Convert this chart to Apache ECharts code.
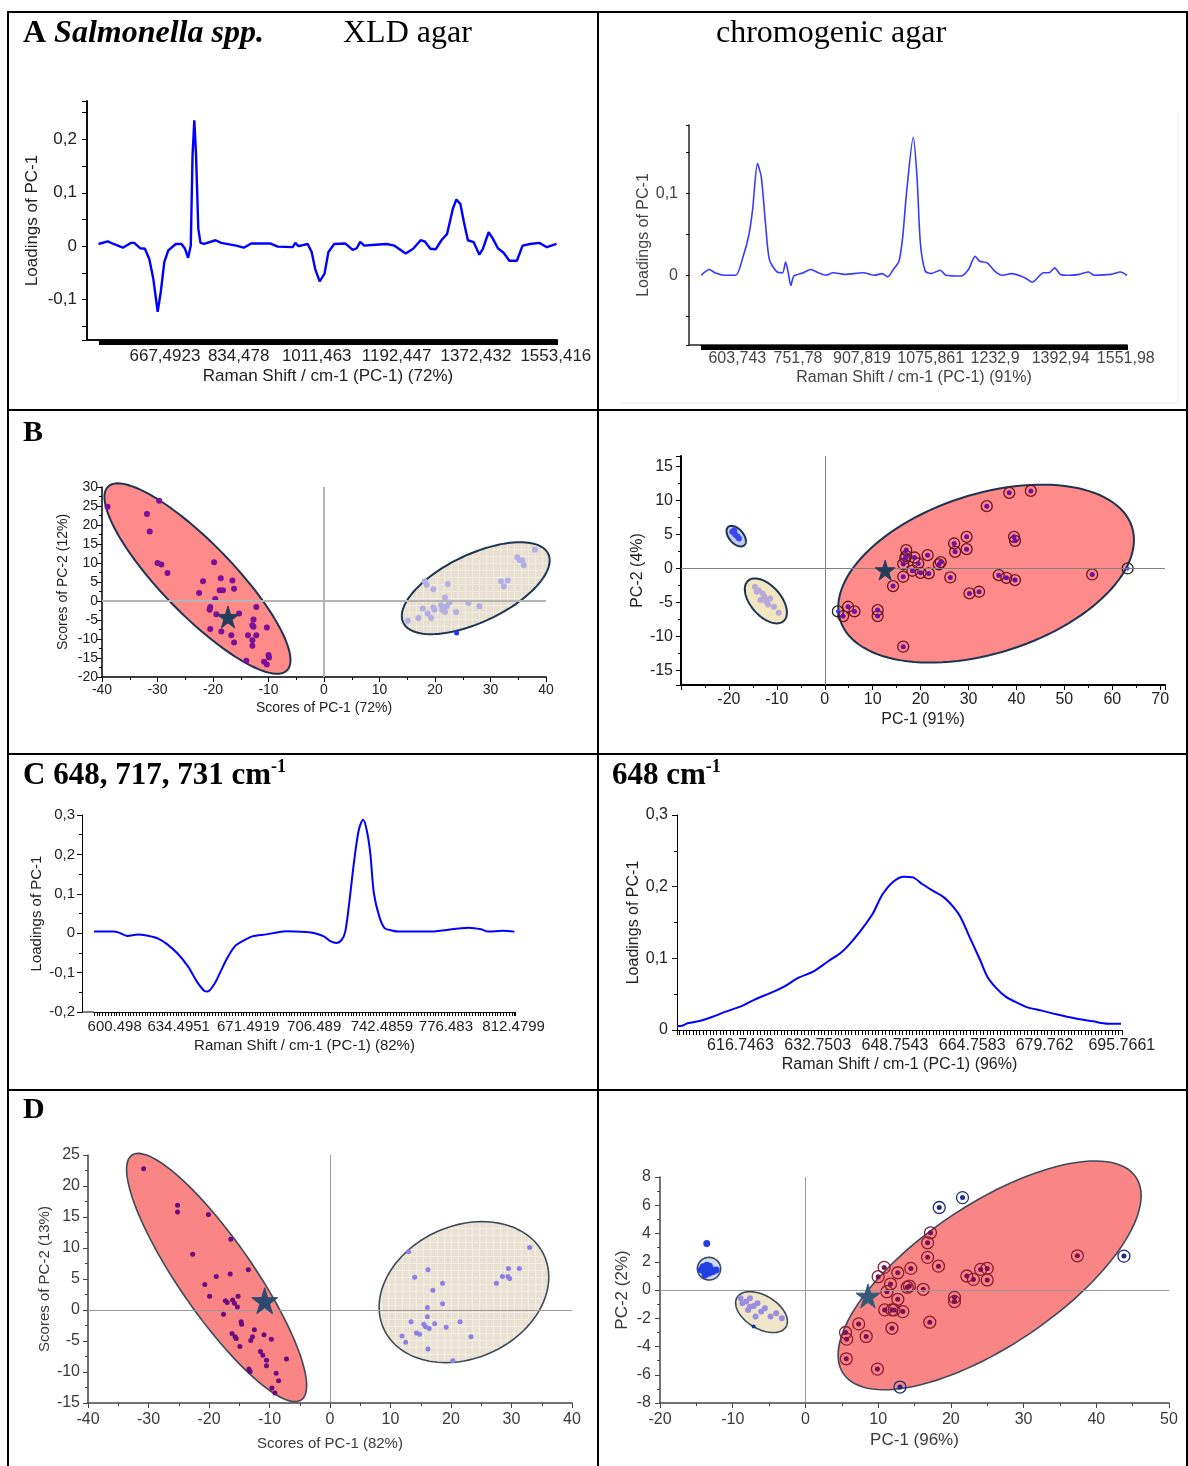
<!DOCTYPE html>
<html>
<head>
<meta charset="utf-8">
<title>Salmonella spp. Raman PCA</title>
<script src="https://cdn.jsdelivr.net/npm/echarts@6/dist/echarts.min.js"></script>
<style>
html, body { margin: 0; padding: 0; background: #fff; }
#main { width: 1188px; height: 1466px; }
</style>
</head>
<body>
<div id="main"></div>
<script>
// ---- A: loadings of PC-1 (full spectrum) ----
var aXldTicks = [667.4923, 834.478, 1011.463, 1192.447, 1372.432, 1553.416];
var aXldSpectrum = [[517,0.004],[538,0.009],[551,0.004],[572,-0.003],[590,0.006],[598,0.006],[611,-0.004],[622,-0.005],[632,-0.024],[641,-0.061],[651,-0.123],[658,-0.086],[666,-0.03],[675,-0.008],[692,0.004],[705,0.004],[713,-0.005],[720,-0.022],[726,0.001],[730,0.17],[734,0.236],[738,0.17],[743,0.033],[748,0.006],[756,0.004],[782,0.011],[795,0.006],[829,0.001],[846,-0.003],[863,0.005],[906,0.005],[923,-0.001],[957,-0.002],[963,0.006],[970,0],[991,0.004],[1000,-0.011],[1008,-0.043],[1018,-0.066],[1029,-0.052],[1038,-0.011],[1051,0.004],[1076,0.005],[1093,-0.007],[1102,-0.004],[1110,0.008],[1119,0.001],[1136,0.002],[1170,0.004],[1187,0.001],[1213,-0.014],[1230,-0.005],[1247,0.011],[1256,0.009],[1269,-0.005],[1281,-0.006],[1294,0.011],[1307,0.023],[1320,0.07],[1328,0.0875],[1337,0.079],[1345,0.045],[1354,0.011],[1367,0.0075],[1380,-0.016],[1388,-0.005],[1401,0.026],[1410,0.015],[1422,-0.004],[1435,-0.0125],[1448,-0.0275],[1465,-0.0275],[1478,0.001],[1495,0.004],[1516,0.006],[1533,-0.002],[1555,0.004]];

var aChromTicks = [603.743, 751.78, 907.819, 1075.861, 1232.9, 1392.94, 1551.98];
var aChromSpectrum = [[515.4,0],[535.6,0.007],[549,0.003],[572,0],[599.7,0],[618,0.023],[631.8,0.049],[641,0.08],[652.9,0.136],[662,0.12],[673,0.06],[682,0.019],[700.5,0.004],[714,0.003],[721.6,0.016],[728,0.003],[734.4,-0.0126],[741.7,-0.001],[764.7,0.003],[783,0.007],[801.3,0.003],[819.6,0],[838,0.003],[865.5,0.001],[911.3,0.003],[938.8,0],[957,0.002],[970.8,-0.002],[984.6,0.007],[998.3,0.017],[1007.5,0.047],[1016.7,0.1],[1033.2,0.168],[1042.3,0.12],[1050.6,0.039],[1062.5,0.005],[1076.2,0.002],[1099.2,0.006],[1112.9,0],[1149.5,-0.001],[1167.9,0.007],[1184.3,0.023],[1195.4,0.017],[1213.7,0.015],[1232,0.005],[1250.3,0],[1273.3,0.002],[1305.3,-0.003],[1323.7,-0.0085],[1351.2,0.003],[1364.9,0.003],[1378.6,0.009],[1392.4,0.001],[1415.3,0],[1438.2,0.001],[1461.1,0.004],[1474.9,0],[1516.1,0.001],[1539,0.004],[1555,0]];

// ---- B: scores, full spectrum ----
// ellipses: [cx, cy, ux, uy, vx, vy] (centre + two semi-axis vectors, data units)
var bXldRedEllipse = [[-22.8, 5.9, 16.1, -24.2, 4.65, 6.5]];
var bXldBeigeEllipse = [[27.34, 3.37, 13.06, 9.06, -2.63, 8.02]];
var bXldRed = [[-39.0,24.8],[-29.7,26.4],[-31.9,22.9],[-31.4,18.3],[-30.0,10.0],[-29.3,9.6],[-28.2,7.4],[-19.8,10.2],[-21.8,5.2],[-22.5,2.1],[-18.6,6.0],[-16.5,5.4],[-16.2,3.2],[-18.8,2.8],[-18.2,2.8],[-19.6,0.5],[-20.5,-1.6],[-20.6,-2.3],[-19.4,-3.5],[-15.3,-3.3],[-12.2,-1.6],[-12.7,-4.9],[-12.9,-6.4],[-12.7,-6.8],[-10.3,-7.0],[-20.5,-7.4],[-18.5,-8.0],[-16.7,-9.0],[-13.7,-9.0],[-12.2,-9.0],[-12.9,-10.3],[-12.9,-11.8],[-16.2,-10.9],[-14.0,-15.7],[-10.8,-16.0],[-10.3,-16.7],[-10.0,-14.2],[-9.9,-14.9]];
var bXldBeige = [[15.1,-5.2],[17.0,-4.5],[17.8,-2.0],[18.7,-3.3],[19.3,-4.5],[19.7,-1.7],[19.9,-2.3],[18.1,5.2],[18.5,4.3],[19.7,3.1],[22.3,4.5],[21.8,0.9],[22.6,-0.4],[21.1,-1.1],[21.3,-2.4],[21.8,-2.9],[22.1,-1.4],[23.8,-2.9],[26.0,-0.5],[28.0,-1.4],[31.9,5.2],[32.4,3.9],[33.1,5.4],[34.8,11.5],[35.3,10.7],[35.7,10.7],[36.0,9.4],[38.0,13.5]];
var bXldBlue = [[23.9,-8.4]];
var bXldStar = [[-17.3,-4.2]];

var bChromRedEllipse = [[33.67, -0.76, 30.08, 7.50, -6.86, 10.69]];
var bChromBlueEllipse = [[-18.48, 4.74, 1.57, -1.40, 1.28, 0.56]];
var bChromBeigeEllipse = [[-12.29, -4.76, 3.47, -3.08, 2.69, 1.18]];
var bChromRed = [[3.84,-6.99],[4.86,-5.62],[6.19,-6.30],[11.04,-6.11],[11.04,-6.99],[14.25,-2.59],[16.37,-1.22],[16.37,0.64],[17.0,2.69],[17.0,1.81],[16.8,1.5],[18.72,1.61],[19.5,0.73],[18.3,-0.34],[20.0,-0.64],[21.46,1.95],[21.7,-0.73],[23.8,0.59],[24.2,0.93],[26.2,-1.32],[27.0,3.66],[27.2,2.44],[29.6,4.64],[29.6,2.83],[30.2,-3.66],[32.2,-3.42],[33.8,9.14],[36.3,-0.98],[37.9,-1.37],[38.5,11.09],[39.5,4.64],[39.7,4.05],[39.7,-1.71],[43.0,11.38],[55.8,-0.88],[16.37,-11.48]];
var bChromBlack = [[2.74,-6.30],[63.2,0]];
var bChromBlue = [[-19.3,5.4],[-18.7,5.0],[-18.2,4.7],[-17.9,4.4],[-18.9,5.6]];
var bChromBeige = [[-14.57,-2.69],[-13.78,-3.18],[-13.0,-3.66],[-12.6,-4.15],[-13.4,-4.64],[-12.2,-4.88],[-11.4,-4.4],[-10.6,-5.62],[-9.6,-6.5],[-14.2,-3.42],[-11.8,-5.28]];
var bChromStar = [[12.6,-0.24]];

// ---- C: loadings of PC-1, selected bands ----
var cXldTicks = [600.498, 634.4951, 671.4919, 706.489, 742.4859, 776.483, 812.4799];
var cXldSpectrum = [[589.5,0.004],[599.6,0.004],[602.4,0.002],[607.2,-0.007],[612.9,-0.003],[618.6,-0.007],[623.3,-0.013],[628.1,-0.027],[633.8,-0.051],[639.5,-0.085],[644.2,-0.123],[648,-0.146],[649.9,-0.148],[653.7,-0.127],[656.5,-0.1],[660.3,-0.063],[664.2,-0.034],[667,-0.024],[673.6,-0.008],[681.2,-0.003],[686.9,0.002],[691.7,0.005],[702.1,0.003],[706.9,0],[711.6,-0.008],[715.4,-0.021],[718.3,-0.025],[721.1,-0.017],[723,0.004],[724.9,0.068],[727.8,0.186],[730.2,0.262],[732.5,0.288],[734.4,0.262],[736.3,0.203],[738.2,0.102],[741.1,0.042],[743.9,0.013],[747.7,0.007],[751.5,0.004],[768.6,0.004],[774.3,0.007],[788.6,0.014],[795.2,0.01],[799,0.004],[806.6,0.006],[812.9,0.004]];

var cChromTicks = [616.7463, 632.7503, 648.7543, 664.7583, 679.762, 695.7661];
var cChromSpectrum = [[603.6,0.0056],[604.7,0.006],[605.8,0.0093],[608.5,0.013],[610.7,0.0177],[613.7,0.0256],[616.7,0.0326],[619.8,0.0428],[622.8,0.0512],[625.8,0.0605],[628.8,0.073],[631.8,0.0814],[634.8,0.0953],[637.8,0.1093],[640.1,0.1256],[642.3,0.1442],[644.2,0.1628],[646.1,0.1884],[648.4,0.207],[650.6,0.214],[652.5,0.213],[654.4,0.2037],[656.6,0.1944],[658.9,0.1851],[660.8,0.1721],[662.3,0.158],[664.2,0.13],[666.4,0.0977],[667.9,0.0744],[669.8,0.0581],[671.7,0.0465],[673.6,0.0395],[676.2,0.0316],[679.2,0.027],[682.2,0.0219],[686,0.0163],[689.8,0.0121],[692.8,0.0088],[695.6,0.0088]];

// ---- D: scores, selected bands ----
var dXldRedEllipse = [[-18.74, 5.24, 13.9, -19.8, 5.31, 2.98]];
var dXldBeigeEllipse = [[22.14, 2.88, 12.5, 7.2, -6.35, 8.8]];
var dXldRed = [[-30.8,22.8],[-25.2,16.9],[-25.2,15.8],[-20.1,15.4],[-16.4,11.4],[-22.7,9.0],[-13.5,6.5],[-16.5,5.8],[-18.8,5.4],[-20.7,4.1],[-19.9,2.2],[-17.3,1.5],[-17.0,1.2],[-16.1,1.6],[-15.2,2.2],[-15.8,1.1],[-15.3,0.5],[-17.6,-0.7],[-14.7,-1.9],[-14.6,-2.3],[-16.2,-3.8],[-15.7,-4.3],[-15.5,-4.6],[-14.9,-5.9],[-12.5,-3.2],[-12.8,-4.3],[-13.1,-4.9],[-10.9,-4.0],[-9.7,-4.7],[-11.5,-6.7],[-11.1,-7.3],[-10.5,-8.1],[-10.5,-9.0],[-7.2,-7.9],[-13.4,-9.5],[-13.2,-9.9],[-8.9,-10.2],[-8.5,-11.4],[-9.6,-12.6],[-9.1,-13.4]];
var dXldBeige = [[13.0,9.4],[14.0,5.3],[16.2,6.5],[17.0,3.2],[18.6,4.3],[18.6,1.0],[16.1,0.4],[16.1,-1.1],[13.4,-1.9],[15.5,-2.3],[15.8,-2.7],[16.4,-3.0],[17.3,-2.2],[19.2,-2.8],[21.5,-1.9],[14.3,-3.7],[14.8,-3.9],[11.9,-4.2],[12.5,-5.2],[16.2,-6.3],[23.3,-4.3],[20.3,-8.2],[27.5,4.3],[28.5,5.4],[29.4,5.4],[29.7,5.1],[29.5,6.7],[31.3,6.7],[33.0,10.1]];
var dXldStar = [[-10.8,1.5]];

var dChromRedEllipse = [[25.33, 1.035, 19.78, 7.18, -6.55, 3.75]];
var dChromBlueEllipse = [[-13.26, 1.51, 1.6, 0, 0, 0.8]];
var dChromBeigeEllipse = [[-6.04, -1.565, 3.22, -1.14, 1.52, 0.89]];
var dChromRed = [[5.52,-3.01],[5.67,-3.48],[5.62,-4.87],[7.32,-2.40],[8.36,-3.29],[9.90,-5.60],[10.0,0.94],[10.83,1.6],[11.7,0.42],[11.2,-0.12],[10.9,-1.41],[11.9,-1.41],[12.2,-1.41],[11.9,-2.71],[13.4,-1.53],[12.7,-0.66],[12.7,1.22],[14.0,0.19],[14.3,0.28],[14.5,1.53],[16.2,0.05],[16.8,2.31],[16.8,3.34],[17.2,4.05],[17.1,-2.28],[18.3,1.69],[20.5,-0.52],[20.5,-0.82],[22.2,0.99],[23.1,0.75],[24.1,1.46],[25.0,1.53],[25.0,0.71],[37.4,2.42]];
var dChromBlueRing = [[18.4,5.84],[21.6,6.54],[43.8,2.4],[13.0,-6.87]];
var dChromBlue = [[-14.08,1.65],[-13.57,1.76],[-13.05,1.53],[-13.72,1.41],[-12.79,1.29],[-13.31,1.18],[-14.34,1.41],[-12.28,1.41],[-13.82,1.06],[-13.21,1.69],[-13.57,3.29]];
var dChromBeige = [[-8.67,-0.94],[-8.15,-0.82],[-7.63,-1.18],[-7.89,-1.41],[-7.12,-1.13],[-6.6,-0.94],[-6.09,-1.53],[-5.57,-1.29],[-4.8,-1.88],[-4.02,-1.65],[-3.25,-2.0],[-6.86,-1.88],[-7.63,-0.59],[-8.92,-0.59]];
var dChromDark = [[-7.12,-2.59]];
var dChromStar = [[8.6,-0.42]];

var sans = 'Arial, "Liberation Sans", sans-serif';
var serif = '"Times New Roman", "Liberation Serif", serif';
var starPath = 'path://M50,0 L61,35 L98,35 L68,57 L79,91 L50,70 L21,91 L32,57 L2,35 L39,35 Z';

function comma(v) {
    return String(v).replace('.', ',');
}
// labels only on multiples of 0.1, decimal comma
function tenths(v) {
    var r = Math.round(v * 10) / 10;
    if (Math.abs(v - r) > 1e-6) return '';
    return r === 0 ? '0' : comma(r);
}
function multipleOf(step) {
    return function (v) {
        var r = Math.round(v / step) * step;
        return Math.abs(v - r) > 1e-6 ? '' : String(r);
    };
}

// faint cross-hatch for the beige (XLD) ellipses
function hatch(base, lineColor) {
    var c = document.createElement('canvas');
    c.width = 7; c.height = 7;
    var ctx = c.getContext('2d');
    ctx.fillStyle = base;
    ctx.fillRect(0, 0, 7, 7);
    ctx.fillStyle = lineColor;
    ctx.fillRect(0, 3, 7, 1);
    ctx.fillRect(3, 0, 1, 7);
    return { image: c, repeat: 'repeat' };
}

// ellipse drawn through the axes of its grid
function ellipseItem(fill, stroke, lw) {
    return function (params, api) {
        var cx = api.value(0), cy = api.value(1);
        var ux = api.value(2), uy = api.value(3), vx = api.value(4), vy = api.value(5);
        var pts = [];
        for (var k = 0; k < 120; k++) {
            var t = k / 120 * Math.PI * 2;
            pts.push(api.coord([cx + ux * Math.cos(t) + vx * Math.sin(t), cy + uy * Math.cos(t) + vy * Math.sin(t)]));
        }
        return { type: 'polygon', shape: { points: pts }, style: { fill: fill, stroke: stroke, lineWidth: lw } };
    };
}

function xAxisOf(gi, o) {
    return {
        type: 'value', gridIndex: gi, min: o.min, max: o.max,
        interval: o.interval, minInterval: o.step, maxInterval: o.step,
        splitLine: { show: false },
        axisLine: { show: true, onZero: false, lineStyle: { color: o.lineColor || '#000', width: o.lineWidth || 1 } },
        axisTick: { show: true, length: o.tickLen || 5, lineStyle: { color: o.tickColor || '#000', width: 1 } },
        minorTick: { show: !!o.minor, splitNumber: o.minor || 2, length: 3, lineStyle: { color: o.tickColor || '#000', width: 1 } },
        minorSplitLine: { show: false },
        axisLabel: {
            customValues: o.labels, formatter: o.formatter, margin: o.margin,
            fontSize: o.fontSize, color: o.color || '#222', fontFamily: sans, showMinLabel: true, showMaxLabel: true
        },
        name: o.name, nameLocation: 'middle', nameGap: o.nameGap,
        nameTextStyle: { fontSize: o.nameSize || o.fontSize, color: o.color || '#222', fontFamily: sans }
    };
}
function yAxisOf(gi, o) {
    var a = xAxisOf(gi, o);
    a.offset = o.offset || 0;
    a.nameRotate = 90;
    return a;
}

var option = {
    animation: false,
    backgroundColor: '#fff',
    grid: [
        { left: 99, top: 101, width: 458, height: 239 },   // A XLD
        { left: 701, top: 125, width: 426, height: 220 },  // A chromogenic
        { left: 102, top: 487, width: 444, height: 190 },  // B XLD
        { left: 681, top: 456, width: 484, height: 229 },  // B chromogenic
        { left: 94, top: 815, width: 421, height: 197 },   // C XLD
        { left: 677, top: 815, width: 445, height: 215 },  // C chromogenic
        { left: 88, top: 1155, width: 484, height: 248 },  // D XLD
        { left: 660, top: 1177, width: 509, height: 226 }  // D chromogenic
    ],
    xAxis: [
        xAxisOf(0, { min: 518, max: 1556, step: 2, labels: aXldTicks, formatter: comma, fontSize: 17, margin: 8, lineWidth: 2, lineColor: '#111', name: 'Raman Shift / cm-1 (PC-1) (72%)', nameGap: 28 }),
        xAxisOf(1, { min: 515, max: 1555, step: 2, labels: aChromTicks, formatter: comma, fontSize: 16, margin: 6, lineWidth: 1.5, lineColor: '#222', color: '#444', name: 'Raman Shift / cm-1 (PC-1) (91%)', nameGap: 25 }),
        xAxisOf(2, { min: -40, max: 40, interval: 10, minor: 2, fontSize: 14, margin: 6, lineWidth: 1.5, name: 'Scores of PC-1 (72%)', nameGap: 24 }),
        xAxisOf(3, { min: -30, max: 71, step: 10, minor: 2, formatter: function (v) { return (v < -25 || v > 70.5) ? '' : String(Math.round(v)); }, fontSize: 16, margin: 7, lineWidth: 2, name: 'PC-1 (91%)', nameGap: 27 }),
        xAxisOf(4, { min: 589.5, max: 813.2, step: 1.5, tickLen: 4, labels: cXldTicks, formatter: function (v) { return String(v); }, fontSize: 15, margin: 7, name: 'Raman Shift / cm-1 (PC-1) (82%)', nameGap: 26 }),
        xAxisOf(5, { min: 603.6, max: 695.8, step: 0.7, tickLen: 5, labels: cChromTicks, formatter: function (v) { return String(v); }, fontSize: 16, margin: 8, name: 'Raman Shift / cm-1 (PC-1) (96%)', nameGap: 27 }),
        xAxisOf(6, { min: -40, max: 40, interval: 10, minor: 2, fontSize: 16, margin: 9, lineWidth: 1.5, lineColor: '#444', tickColor: '#444', color: '#3a3a3a', name: 'Scores of PC-1 (82%)', nameGap: 33, nameSize: 15 }),
        xAxisOf(7, { min: -20, max: 50, interval: 10, minor: 2, fontSize: 16, margin: 9, lineWidth: 1.5, lineColor: '#444', tickColor: '#444', color: '#3a3a3a', name: 'PC-1 (96%)', nameGap: 29, nameSize: 17 })
    ],
    yAxis: [
        yAxisOf(0, { min: -0.176, max: 0.272, step: 0.05, offset: 12, formatter: tenths, fontSize: 17, margin: 10, lineWidth: 2, lineColor: '#111', name: 'Loadings of PC-1', nameGap: 46 }),
        yAxisOf(1, { min: -0.085, max: 0.183, step: 0.05, offset: 12, tickLen: 3, formatter: function (v) { return Math.abs(v) < 1e-6 ? '0' : (Math.abs(v - 0.1) < 1e-6 ? '0,1' : ''); }, fontSize: 16, margin: 11, lineWidth: 1.5, lineColor: '#222', color: '#444', name: 'Loadings of PC-1', nameGap: 36 }),
        yAxisOf(2, { min: -20, max: 30, interval: 5, minor: 2, fontSize: 14, margin: 4, lineWidth: 1.5, name: 'Scores of PC-2 (12%)', nameGap: 32 }),
        yAxisOf(3, { min: -17.1, max: 16.5, step: 5, minor: 2, formatter: multipleOf(5), fontSize: 16, margin: 8, lineWidth: 2, name: 'PC-2 (4%)', nameGap: 34 }),
        yAxisOf(4, { min: -0.2, max: 0.3, interval: 0.1, minor: 2, offset: 12, formatter: tenths, fontSize: 15, margin: 7, name: 'Loadings of PC-1', nameGap: 38 }),
        yAxisOf(5, { min: 0, max: 0.3, interval: 0.1, minor: 2, formatter: tenths, fontSize: 16, margin: 9, name: 'Loadings of PC-1', nameGap: 35 }),
        yAxisOf(6, { min: -15, max: 25, interval: 5, minor: 2, fontSize: 16, margin: 8, lineWidth: 1.5, lineColor: '#444', tickColor: '#444', color: '#3a3a3a', name: 'Scores of PC-2 (13%)', nameGap: 36, nameSize: 15 }),
        yAxisOf(7, { min: -8, max: 8, interval: 2, minor: 2, fontSize: 16, margin: 9, lineWidth: 1.5, lineColor: '#444', tickColor: '#444', color: '#3a3a3a', name: 'PC-2 (2%)', nameGap: 29, nameSize: 17 })
    ],
    series: [],
    graphic: []
};

function spectrum(i, data, color, width, smooth) {
    return { type: 'line', xAxisIndex: i, yAxisIndex: i, data: data, symbol: 'none', smooth: smooth, lineStyle: { color: color, width: width }, z: 3 };
}
function ellipses(i, data, fill, stroke, lw) {
    return { type: 'custom', xAxisIndex: i, yAxisIndex: i, data: data, renderItem: ellipseItem(fill, stroke, lw), clip: false, silent: true, z: 1 };
}
function cross(i, color, width) {
    return {
        type: 'line', xAxisIndex: i, yAxisIndex: i, data: [], z: 2,
        markLine: { silent: true, symbol: ['none', 'none'], label: { show: false }, lineStyle: { color: color, width: width, type: 'solid' }, data: [{ xAxis: 0 }, { yAxis: 0 }] }
    };
}
function dots(i, data, color, size, z) {
    return { type: 'scatter', xAxisIndex: i, yAxisIndex: i, data: data, symbolSize: size, itemStyle: { color: color, opacity: 1 }, z: z || 4 };
}
function rings(i, data, stroke, size) {
    return { type: 'scatter', xAxisIndex: i, yAxisIndex: i, data: data, symbolSize: size, itemStyle: { color: 'rgba(0,0,0,0)', borderColor: stroke, borderWidth: 1.3, opacity: 1 }, z: 3 };
}
function star(i, data, color, size) {
    return { type: 'scatter', xAxisIndex: i, yAxisIndex: i, data: data, symbol: starPath, symbolSize: size, itemStyle: { color: color, borderColor: color, borderWidth: 1, borderJoin: 'round', opacity: 1 }, z: 5 };
}

option.series.push(
    spectrum(0, aXldSpectrum, '#0000ff', 2.4, false),
    spectrum(1, aChromSpectrum, '#3a3aff', 1.6, 0.25),

    ellipses(2, bXldRedEllipse, '#ff8a8a', '#1e3552', 2),
    ellipses(2, bXldBeigeEllipse, hatch('#e7e0d0', '#f1ece2'), '#1e3552', 2),
    cross(2, '#b4b4b4', 2),
    dots(2, bXldBeige, '#b3aee3', 6),
    dots(2, bXldBlue, '#2233ff', 5),
    dots(2, bXldRed, '#7a0f9a', 6),
    star(2, bXldStar, '#243d5c', 22),

    ellipses(3, bChromRedEllipse, '#ff8a8a', '#1e3552', 2),
    ellipses(3, bChromBlueEllipse, '#c3caf4', '#1e3552', 2),
    ellipses(3, bChromBeigeEllipse, '#f1e5c2', '#1e3552', 2),
    cross(3, '#808080', 1),
    dots(3, bChromBeige, '#b9a9d8', 6),
    dots(3, bChromBlue, '#3a48ee', 6),
    rings(3, bChromRed, '#6a1424', 11),
    dots(3, bChromRed, '#6f11a0', 5),
    rings(3, bChromBlack, '#222', 11),
    dots(3, bChromBlack, '#2a3cff', 4),
    star(3, bChromStar, '#243d5c', 20),

    spectrum(4, cXldSpectrum, '#0000ff', 2, 0.3),
    spectrum(5, cChromSpectrum, '#0000ff', 2, 0.3),

    ellipses(6, dXldRedEllipse, '#fa8585', '#3c4a58', 1.6),
    ellipses(6, dXldBeigeEllipse, hatch('#e9e2d2', '#f3efe6'), '#3c4a58', 1.6),
    cross(6, '#9a9a9a', 1),
    dots(6, dXldBeige, '#8c7fe6', 5),
    dots(6, dXldRed, '#6a0a80', 5),
    star(6, dXldStar, '#2c4a6e', 26),

    ellipses(7, dChromRedEllipse, '#fa8585', '#3c4a58', 1.6),
    ellipses(7, dChromBlueEllipse, '#d2d8f8', '#3c4a58', 1.6),
    ellipses(7, dChromBeigeEllipse, '#efe6cb', '#3c4a58', 1.6),
    cross(7, '#999', 1),
    dots(7, dChromBeige, '#9a8ee0', 6),
    dots(7, dChromBlue, '#2040e0', 7),
    dots(7, dChromDark, '#203090', 4),
    rings(7, dChromRed, '#8a1c34', 12),
    dots(7, dChromRed, '#7a1050', 5),
    rings(7, dChromBlueRing, '#203070', 12),
    dots(7, dChromBlueRing, '#1a2a90', 5),
    star(7, dChromStar, '#345a78', 24)
);

// table borders, axis corners and panel titles
function hline(x1, x2, y, w, c) {
    return { type: 'line', shape: { x1: x1, y1: y, x2: x2, y2: y }, style: { stroke: c || '#000', lineWidth: w || 2 }, silent: true, z: 10 };
}
function vline(x, y1, y2, w, c) {
    return { type: 'line', shape: { x1: x, y1: y1, x2: x, y2: y2 }, style: { stroke: c || '#000', lineWidth: w || 2 }, silent: true, z: 10 };
}
function title(x, y, text, rich, align) {
    return { type: 'text', x: x, y: y, silent: true, z: 10, style: { text: text, rich: rich, align: align || 'left', verticalAlign: 'middle', fill: '#000' } };
}
function tStyle(size, extra) {
    var s = { fontSize: size, fontFamily: serif, lineHeight: size + 4 };
    for (var k in extra) s[k] = extra[k];
    return s;
}

option.graphic = [
    hline(7, 1188, 12), hline(7, 1188, 410), hline(7, 1188, 754), hline(7, 1188, 1090),
    vline(8, 11, 1466), vline(598, 11, 1466), vline(1187, 11, 1466),
    vline(1178, 113, 403, 1, '#ececec'), hline(620, 1178, 403, 1, '#ececec'),
    hline(87, 99, 340, 2, '#111'), hline(689, 701, 345, 1.5, '#222'), hline(82, 94, 1012, 1, '#000'),
    title(23, 34, '{b|A }{bi|Salmonella spp.}', { b: tStyle(32, { fontWeight: 'bold' }), bi: tStyle(32, { fontWeight: 'bold', fontStyle: 'italic' }) }),
    title(343, 34, '{p|XLD agar}', { p: tStyle(32) }),
    title(831, 34, '{p|chromogenic agar}', { p: tStyle(32) }, 'center'),
    title(23, 433, '{b|B}', { b: tStyle(30, { fontWeight: 'bold' }) }),
    title(23, 776, '{b|C 648, 717, 731 cm}{s|-1}', { b: tStyle(31, { fontWeight: 'bold' }), s: { fontSize: 18, fontWeight: 'bold', fontFamily: serif, lineHeight: 35, verticalAlign: 'top' } }),
    title(612, 776, '{b|648 cm}{s|-1}', { b: tStyle(31, { fontWeight: 'bold' }), s: { fontSize: 18, fontWeight: 'bold', fontFamily: serif, lineHeight: 35, verticalAlign: 'top' } }),
    title(23, 1110, '{b|D}', { b: tStyle(30, { fontWeight: 'bold' }) })
];

var myChart = echarts.init(document.getElementById('main'));
myChart.setOption(option);
</script>
</body>
</html>
